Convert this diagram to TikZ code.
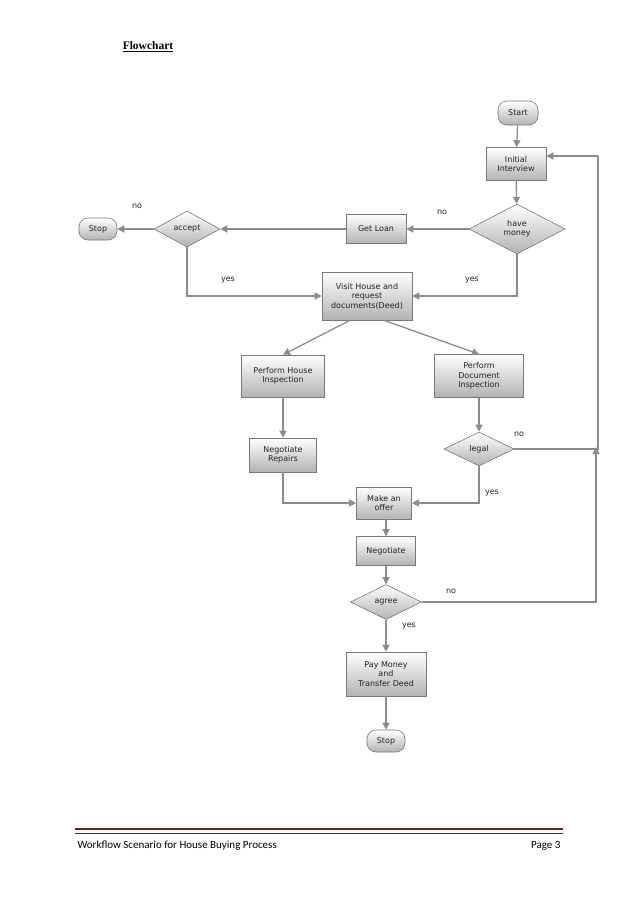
\documentclass[tikz,border=0pt]{standalone}
\usepackage{fontspec}
\setmainfont{Liberation Serif}
\newfontfamily\nodefont{DejaVu Sans}
\newfontfamily\footfont{Carlito}
\usetikzlibrary{shapes.geometric,arrows.meta}
\definecolor{lnc}{RGB}{140,140,140}
\definecolor{bdc}{RGB}{120,120,120}
\definecolor{txc}{RGB}{35,35,35}
\definecolor{foot}{RGB}{110,30,30}
\begin{document}
\begin{tikzpicture}[x=1pt,y=-1pt,
  base/.style={draw=bdc,top color=white,bottom color=black!30,text=txc,font=\nodefont\fontsize{8}{9.5}\selectfont,align=center,inner sep=1pt,line width=0.6pt},
  box/.style={base,rectangle,minimum width=#1,minimum height=32},
  term/.style={base,rectangle,rounded corners=9pt,minimum width=38,minimum height=22},
  dia/.style={base,diamond,aspect=1.9,inner sep=0pt},
  ar/.style={draw=lnc,line width=1.3pt,-{Triangle[length=7pt,width=7pt]}},
  ln/.style={draw=lnc,line width=1.3pt},
  lb/.style={font=\nodefont\fontsize{8}{9.5}\selectfont,text=txc}]
\useasboundingbox (0,0) rectangle (638,903);
\node[font=\bfseries\fontsize{11.5}{13}\selectfont] (title) at (148,47) {\underline{Flowchart}};
\node[term,minimum width=40,minimum height=24] (start) at (518,113) {Start};
\node[box=60,minimum height=33] (ii) at (516,164) {Initial\\Interview};
\node[dia,minimum width=96,minimum height=50] (hm) at (517,229) {have\\money};
\node[box=60,minimum height=29] (gl) at (376,229) {Get Loan};
\node[dia,minimum width=66,minimum height=36] (acc) at (187,229) {accept};
\node[term] (stop1) at (98,229) {Stop};
\node[box=90,minimum height=48] (vh) at (367,296) {Visit House and\\request\\documents(Deed)};
\node[box=83,minimum height=42] (phi) at (283,376) {Perform House\\Inspection};
\node[box=89,minimum height=43] (pdi) at (479,376) {Perform\\Document\\Inspection};
\node[box=67,minimum height=34] (nr) at (283,455) {Negotiate\\Repairs};
\node[dia,minimum width=70,minimum height=34] (legal) at (479,449) {legal};
\node[box=55,minimum height=32] (mo) at (384,503) {Make an\\offer};
\node[box=59,minimum height=29] (neg) at (386,551) {Negotiate};
\node[dia,minimum width=71,minimum height=35] (agree) at (386,602) {agree};
\node[box=80,minimum height=44] (pay) at (386,674) {Pay Money\\and\\Transfer Deed};
\node[term] (stop2) at (386,741) {Stop};
\coordinate (r1) at (598,449);
\coordinate (r2) at (598,156);
\coordinate (r3) at (596,602);
\draw[ar] (start) -- (ii);
\draw[ar] (ii) -- (hm);
\draw[ar] (hm) -- (gl);
\draw[ar] (gl) -- (acc);
\draw[ar] (acc) -- (stop1);
\draw[ar] (acc.south) |- (vh.west);
\draw[ar] (hm.south) |- (vh.east);
\draw[ar] (vh.south) ++(-17,0) -- (phi.north);
\draw[ar] (vh.south) ++(17,0) -- (pdi.north);
\draw[ar] (phi) -- (nr);
\draw[ar] (pdi) -- (legal);
\draw[ar] (nr.south) |- (mo.west);
\draw[ar] (legal.south) |- (mo.east);
\draw[ar] (mo.south -| neg) -- (neg.north);
\draw[ar] (neg) -- (agree);
\draw[ar] (agree) -- (pay);
\draw[ar] (pay) -- (stop2);
\draw[ln] (legal.east) -- (r1) -- (r2);
\draw[ar] (r2) -- (ii.east |- r2);
\draw[ar] (agree.east) -- (r3) -- (596,447);
\node[lb] (l1) at (137,206) {no};
\node[lb] (l2) at (442,212) {no};
\node[lb] (l3) at (228,280) {yes};
\node[lb] (l4) at (472,280) {yes};
\node[lb] (l5) at (519,434) {no};
\node[lb] (l6) at (492,493) {yes};
\node[lb] (l7) at (451,591) {no};
\node[lb] (l8) at (409,626) {yes};
\draw[foot,line width=2.2pt] (75,829) -- (563,829);
\draw[foot,line width=0.5pt] (75,833) -- (563,833);
\node[font=\footfont\fontsize{11}{12}\selectfont,anchor=west] (f1) at (74,846) {Workflow Scenario for House Buying Process};
\node[font=\footfont\fontsize{11}{12}\selectfont,anchor=east] (f2) at (564,846) {Page 3};
\end{tikzpicture}
\end{document}
